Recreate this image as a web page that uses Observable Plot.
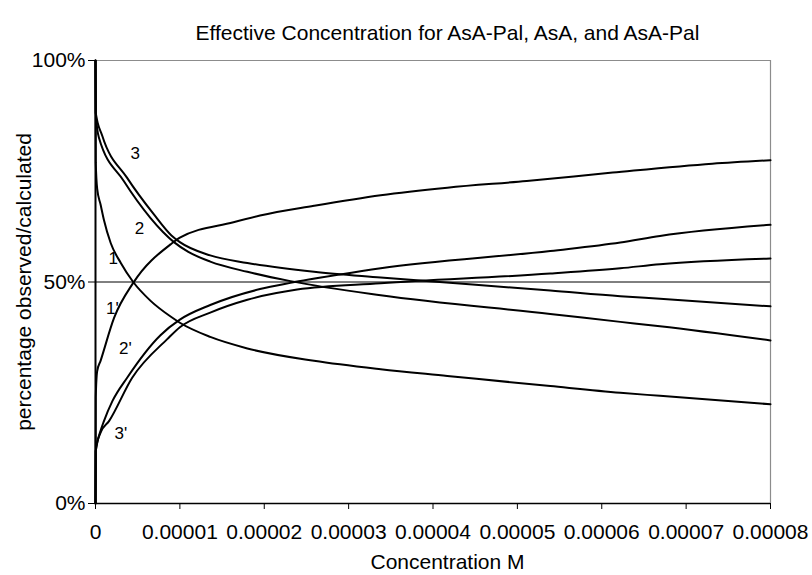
<!DOCTYPE html>
<html>
<head>
<meta charset="utf-8">
<script src="https://cdn.jsdelivr.net/npm/d3@7"></script>
<script src="https://cdn.jsdelivr.net/npm/@observablehq/plot@0.6"></script>
<style>
  html, body { margin: 0; padding: 0; background: #fff; }
</style>
</head>
<body>
<div id="chart"></div>
<script>
// Concentration values are given in units of 1e-5 M; percentages in %.
const curve1x  = [0, 0.003, 0.02, 0.06, 0.1, 0.18, 0.3, 0.447, 0.65, 0.89, 1.0, 1.36, 1.8, 2.59, 3.38, 4.17, 5.39, 6.22, 6.69, 8];
const curve1y  = [100, 77, 71, 67.5, 64, 58.8, 54.3, 50, 45.8, 42.2, 40.8, 37.6, 35.0, 32.2, 30.3, 28.8, 26.5, 25.0, 24.3, 22.4];

const curve2x  = [0, 0.003, 0.04, 0.335, 0.65, 0.8, 0.93, 1.1, 1.36, 1.8, 2.31, 3.38, 5.39, 6.22, 6.69, 8];
const curve2y  = [100, 88.2, 82.6, 72.8, 64.5, 61.3, 59.0, 56.8, 54.6, 52.3, 50.2, 47.0, 42.8, 41.0, 40.0, 36.8];

const curve3x  = [0, 0.003, 0.08, 0.375, 0.69, 0.9, 1.0, 1.36, 1.8, 2.59, 3.38, 5.39, 6.22, 6.69, 8];
const curve3y  = [100, 88.2, 83.0, 73.5, 65.3, 60.5, 59.0, 56.0, 54.3, 52.3, 51.0, 48.1, 46.8, 46.2, 44.5];

const curve1px = [0, 0.003, 0.02, 0.06, 0.22, 0.447, 0.89, 1.0, 1.635, 1.95, 2.59, 3.38, 4.17, 5.11, 6.13, 7.31, 8];
const curve1py = [0, 24, 29.9, 32.2, 41.9, 49.8, 58.5, 60.0, 63.5, 65.0, 67.2, 69.6, 71.3, 72.8, 74.7, 76.7, 77.5];

const curve2px = [0, 0.003, 0.06, 0.1, 0.2, 0.375, 0.77, 1.0, 1.36, 1.95, 2.31, 2.9, 3.38, 5.39, 6.22, 6.69, 8];
const curve2py = [0, 11.8, 16.4, 18.6, 23.1, 28.4, 38.0, 41.5, 44.8, 48.4, 49.8, 51.7, 53.1, 57.0, 58.9, 60.4, 62.9];

const curve3px = [0, 0.003, 0.06, 0.16, 0.435, 0.85, 1.0, 1.36, 1.8, 2.39, 3.38, 5.39, 6.22, 6.69, 8];
const curve3py = [0, 11.8, 16.0, 18.6, 28.4, 37.1, 39.8, 43.1, 46.0, 48.3, 49.7, 51.9, 53.1, 54.0, 55.3];

const curveNames = ["1", "2", "3", "1'", "2'", "3'"];
const labelX = [0.21, 0.52, 0.47, 0.20, 0.355, 0.30];
const labelY = [55.2, 62.0, 78.9, 43.9, 34.9, 15.9];

const xTicks = [0, 1, 2, 3, 4, 5, 6, 7, 8];
const xTickLabels = ["0", "0.00001", "0.00002", "0.00003", "0.00004", "0.00005", "0.00006", "0.00007", "0.00008"];
const yTicks = [0, 50, 100];
const yTickLabels = ["0%", "50%", "100%"];

const title = "Effective Concentration for AsA-Pal, AsA, and AsA-Pal";
const xTitle = "Concentration M";
const yTitle = "percentage observed/calculated";

const series = [
  [curve1x, curve1y], [curve2x, curve2y], [curve3x, curve3y],
  [curve1px, curve1py], [curve2px, curve2py], [curve3px, curve3py]
];
const rows = series.flatMap(([xs, ys], i) =>
  xs.map((x, j) => ({ name: curveNames[i], x: x * 1e-5, y: ys[j] })));
const labels = curveNames.map((n, i) => ({ name: n, x: labelX[i] * 1e-5, y: labelY[i] }));

const font = "'Liberation Sans', Arial, sans-serif";

const chart = Plot.plot({
  width: 812,
  height: 575,
  marginLeft: 95,
  marginRight: 42,
  marginTop: 60,
  marginBottom: 72,
  style: { fontFamily: font, fontSize: "21px", color: "#000", background: "#fff", overflow: "visible" },
  x: { domain: [0, 8e-5] },
  y: { domain: [0, 100] },
  marks: [
    Plot.ruleY([50], { stroke: "#000", strokeWidth: 1 }),
    Plot.ruleY([100], { stroke: "#8c8c8c", strokeWidth: 1.2 }),
    Plot.ruleX([8e-5], { stroke: "#8c8c8c", strokeWidth: 1.2 }),
    Plot.line(rows, { x: "x", y: "y", z: "name", stroke: "#000", strokeWidth: 2, curve: "monotone-x" }),
    Plot.ruleY([0], { stroke: "#000", strokeWidth: 1.5 }),
    Plot.ruleX([0], { stroke: "#000", strokeWidth: 2 }),
    Plot.axisX({
      ticks: xTicks.map(d => d * 1e-5),
      tickFormat: (d, i) => xTickLabels[i],
      tickSize: 6, tickPadding: 15, fontSize: 21, label: null, stroke: "#000"
    }),
    Plot.axisY({
      ticks: yTicks,
      tickFormat: (d, i) => yTickLabels[i],
      tickSize: 7, tickPadding: 3, fontSize: 21, label: null, stroke: "#000"
    }),
    Plot.text(labels, { x: "x", y: "y", text: "name", fontSize: 17, fill: "#000" }),
    Plot.text([title], { frameAnchor: "top", textAnchor: "middle", dx: 14.5, dy: -35, fontSize: 21, fill: "#000" }),
    Plot.text([xTitle], { frameAnchor: "bottom", textAnchor: "middle", dx: 14.5, dy: 65, fontSize: 21, fill: "#000" }),
    Plot.text([yTitle], { frameAnchor: "left", textAnchor: "middle", dx: -71, rotate: -90, fontSize: 21, fill: "#000" })
  ]
});
document.getElementById("chart").appendChild(chart);
</script>
</body>
</html>
